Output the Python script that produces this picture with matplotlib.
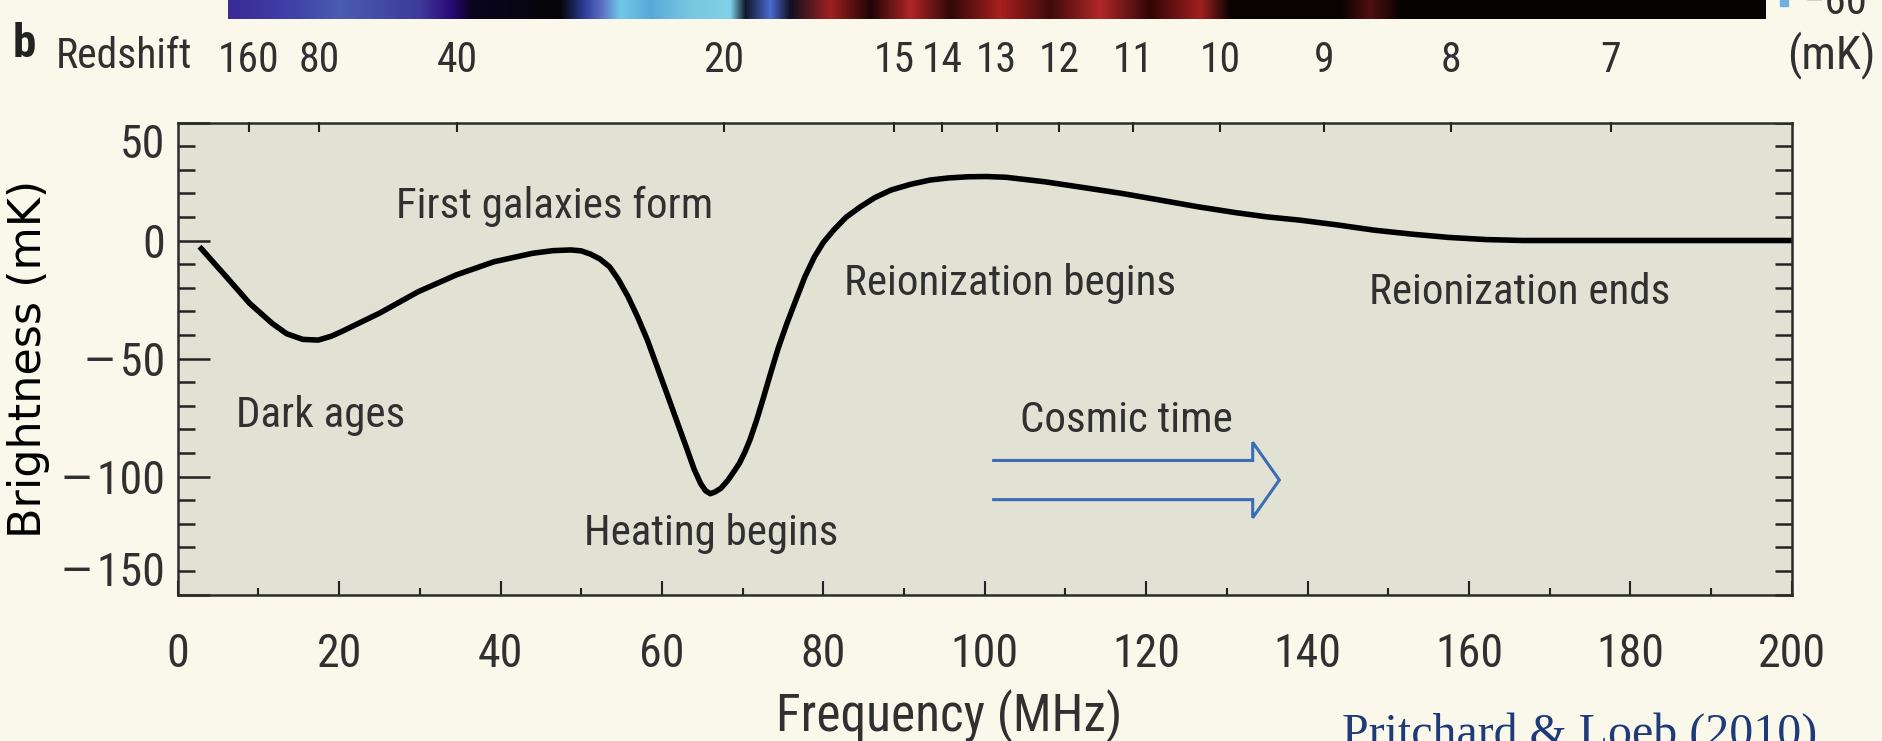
import numpy as np
import matplotlib.pyplot as plt
from matplotlib.ticker import MultipleLocator

# 21-cm global signal (Pritchard & Loeb 2010)
freq_mhz = [2.7, 6.0, 8.9, 11.7, 13.5, 15.5, 17.4, 19.0, 20.3, 25.0, 29.8, 34.5, 39.2,
            44.0, 46.5, 48.7, 50.0, 51.1, 52.3, 53.5, 54.6, 55.8, 57.0, 58.2, 60.6,
            62.0, 63.0, 64.0, 64.8, 65.4, 66.0, 66.6, 67.3, 68.2, 69.0, 69.6, 70.3,
            70.9, 71.7, 72.5, 73.4, 74.4, 75.5, 76.6, 77.7, 78.9, 80.0, 81.3, 82.8,
            84.6, 86.4, 88.4, 90.8, 93.2, 95.5, 97.9, 100.2, 102.6, 107.4, 112.1,
            116.9, 121.6, 126.4, 131.1, 135.0, 139.1, 143.7, 148.2, 152.9, 157.5,
            162.1, 166.7, 200.0]
brightness_mk = [-2.6, -15.3, -26.6, -35.1, -39.5, -41.9, -42.2, -40.6, -38.6, -30.8,
                 -21.7, -14.6, -9.0, -5.4, -4.3, -4.0, -4.4, -5.7, -7.8, -11.1, -16.5,
                 -23.8, -32.5, -42.2, -64.7, -78.0, -87.4, -97.0, -103.0, -106.0,
                 -107.3, -106.5, -105.0, -101.5, -97.5, -94.4, -89.5, -84.5, -76.5,
                 -67.5, -57.0, -45.7, -35.0, -25.2, -15.5, -6.9, -0.8, 4.5, 9.8, 14.3,
                 18.2, 21.4, 23.8, 25.6, 26.5, 27.0, 27.1, 26.8, 24.9, 22.5, 20.0,
                 17.2, 14.3, 11.8, 10.0, 8.6, 6.6, 4.4, 2.7, 1.3, 0.4, 0.0, 0.0]

HI_REST_MHZ = 1420.4
redshift_ticks = [160, 80, 40, 20, 15, 14, 13, 12, 11, 10, 9, 8, 7]

x_ticks = list(range(0, 201, 20))
y_ticks = [-150, -100, -50, 0, 50]
y_tick_labels = ['\u2014\u200a150', '\u2014\u200a100', '\u2014\u200a50', '0', '50']

labels = ["First galaxies form", "Dark ages", "Heating begins",
          "Reionization begins", "Reionization ends", "Cosmic time"]
label_x = [27.1, 7.2, 50.4, 82.5, 147.6, 104.4]
label_y = [9.4, -78.9, -129.0, -23.1, -26.9, -81.0]

# "Cosmic time" arrow: tail x, tip x, centre y, shaft half gap, head half height, head length
arrow_tail, arrow_tip, arrow_y = 101.1, 136.5, -101.5
arrow_gap, arrow_head_h, arrow_head_l = 8.3, 16.0, 3.3

# colour stops of the strip left over from panel a (pixel x, colour)
strip_pos = [228, 290, 340, 420, 450, 471, 560, 585, 600, 620, 650, 690, 730, 745,
             770, 790, 830, 870, 910, 950, 1000, 1050, 1100, 1150, 1200, 1230, 1340,
             1370, 1400, 1766]
strip_col = ['#3a2a95', '#4040a8', '#4a5cb0', '#3e3a9a', '#2a0a78', '#0a0520',
             '#050508', '#3040a0', '#5a6ac0', '#70c8e8', '#5aa8d8', '#78c8e0',
             '#80d0e8', '#101828', '#4a6ad0', '#101020', '#a02020', '#200505',
             '#b02525', '#300808', '#a82020', '#400a0a', '#b02828', '#300606',
             '#a02020', '#0a0202', '#080202', '#501010', '#080202', '#050202']

FIG_BG = '#faf8ea'
AX_BG = '#e1e2d4'
TXT = '#303030'
SANS = ['Roboto Condensed', 'Liberation Sans', 'DejaVu Sans']
FS = 31       # annotations
FS_TICK = 33

plt.rcParams['font.family'] = SANS
plt.rcParams['text.color'] = TXT
plt.rcParams['xtick.color'] = '#222222'
plt.rcParams['ytick.color'] = '#222222'
plt.rcParams['xtick.labelcolor'] = TXT
plt.rcParams['ytick.labelcolor'] = TXT

W, H = 1883, 741
fig = plt.figure(figsize=(W / 100, H / 100), dpi=100, facecolor=FIG_BG)

# top strip (bottom of panel a)
sax = fig.add_axes([228 / W, 1 - 19 / H, (1766 - 228) / W, 19 / H])
px = np.arange(228, 1766)
rgb = np.array([plt.matplotlib.colors.to_rgb(c) for c in strip_col])
strip = np.stack([np.interp(px, strip_pos, rgb[:, k]) for k in range(3)], axis=-1)
sax.imshow(strip[None, :, :], aspect='auto')
sax.axis('off')

ax = fig.add_axes([177.7 / W, 1 - 594.5 / H, (1791.8 - 177.7) / W, (594.5 - 122.5) / H])
ax.set_facecolor(AX_BG)
ax.plot(freq_mhz, brightness_mk, color='black', lw=4.0, solid_capstyle='butt',
        solid_joinstyle='round')
ax.set_xlim(0, 200)
ax.set_ylim(-150, 50)

for s in ax.spines.values():
    s.set_linewidth(1.8)
    s.set_color('#2a2a2a')

ax.set_xticks(x_ticks)
ax.xaxis.set_minor_locator(MultipleLocator(10))
ax.set_yticks(y_ticks, y_tick_labels)
ax.yaxis.set_minor_locator(MultipleLocator(10))
ax.tick_params(axis='x', which='major', direction='in', length=10, width=1.5,
               pad=27, labelsize=FS_TICK)
ax.tick_params(axis='x', which='minor', direction='in', length=5, width=1.5)
ax.tick_params(axis='y', which='major', direction='in', length=23, width=1.8,
               pad=9, labelsize=FS_TICK)
ax.tick_params(axis='y', which='minor', direction='in', length=12, width=1.8)
ylabs = ax.get_yticklabels()
ylabs[-1].set_va('top')
ylabs[0].set_va('bottom')

# right-hand ticks (all short)
rax = ax.secondary_yaxis('right')
rax.set_yticks(np.arange(-150, 51, 10))
rax.tick_params(direction='in', length=12, width=1.8, labelright=False)
rax.spines['right'].set_visible(False)

# redshift axis on top
tax = ax.secondary_xaxis('top')
tax.set_xticks([HI_REST_MHZ / (1 + z) for z in redshift_ticks],
               [str(z) for z in redshift_ticks])
tax.tick_params(direction='in', length=7, width=1.5, pad=30, labelsize=30)
tax.spines['top'].set_visible(False)

fig.text(192 / W, 1 - 68 / H, 'Redshift', ha='right', va='baseline', fontsize=30)
fig.text(1876 / W, 1 - 68 / H, '(mK)', ha='right', va='baseline', fontsize=FS_TICK)
fig.text(1836 / W, 1 - 3 / H, '\u221260', ha='center', va='center', fontsize=FS)
fig.patches.append(plt.Rectangle((1780 / W, 1 - 6 / H), 8 / W, 6 / H,
                                 transform=fig.transFigure, color='#6fb0e0'))
fig.text(24 / W, 1 - 44 / H, 'b', ha='center', va='center', fontsize=34,
         fontweight='bold', color='#222222')

ax.set_ylabel('Brightness (mK)', family=['DejaVu Sans'], fontsize=32)
ax.yaxis.set_label_coords(-0.079, 0.5)
fig.text(949 / W, 1 - 731 / H, 'Frequency (MHz)', ha='center', va='baseline',
         fontsize=37)

for txt, x, y in zip(labels, label_x, label_y):
    ax.text(x, y, txt, ha='left', va='baseline', fontsize=FS)

# hollow "cosmic time" arrow
base = arrow_tip - arrow_head_l
ax.plot([arrow_tail, base, base, arrow_tip, base, base, arrow_tail],
        [arrow_y + arrow_gap, arrow_y + arrow_gap, arrow_y + arrow_head_h, arrow_y,
         arrow_y - arrow_head_h, arrow_y - arrow_gap, arrow_y - arrow_gap],
        color='#3a6db5', lw=2.2, solid_joinstyle='miter')

fig.text(1342 / W, 1 - 747 / H, 'Pritchard & Loeb (2010)', ha='left', va='baseline',
         fontsize=34.5, family=['Liberation Serif', 'DejaVu Serif'], color='#1f3a78')

fig.savefig('out.png', dpi=100, facecolor=FIG_BG)
